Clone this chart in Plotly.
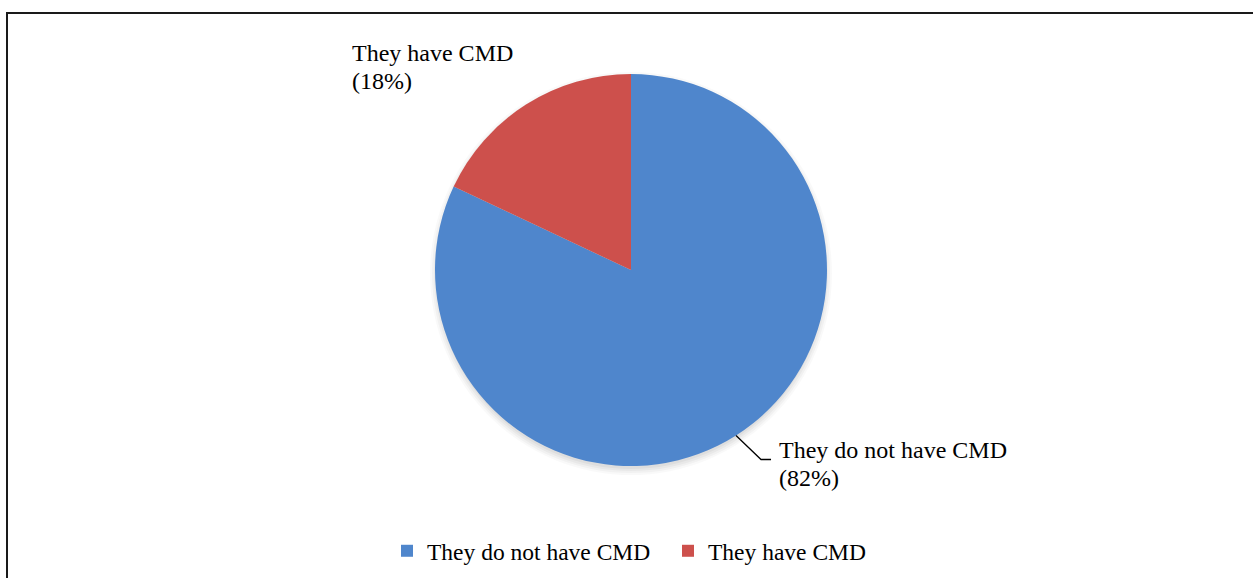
import math
import plotly.graph_objects as go

# ---- data ----
labels = ["They do not have CMD", "They have CMD"]
values = [82, 18]
colors = ["#4f86cc", "#cd504c"]

W, H = 1253, 578
CX, CY, R = 631, 270, 196
FONT = "Liberation Serif, Times New Roman, serif"


def px(x):
    return x / W


def py(y):
    return 1 - y / H


fig = go.Figure()
fig.add_trace(go.Pie(
    labels=labels, values=values, sort=False, direction="clockwise", rotation=0,
    marker=dict(colors=colors, line=dict(width=0)),
    textinfo="none", hoverinfo="label+percent",
    domain=dict(x=[px(CX - R), px(CX + R)], y=[py(CY + R), py(CY - R)]),
))

# soft shadow beneath the pie (mostly towards the bottom)
shapes = []
for i, a in enumerate([0.025, 0.03, 0.035, 0.04]):
    g = 7 - 2 * i
    shapes.append(dict(type="circle", xref="paper", yref="paper", layer="below",
                       x0=px(CX - R - g + 2), x1=px(CX + R + g - 2),
                       y0=py(CY + R + g + 2), y1=py(CY - R - g + 5),
                       fillcolor=f"rgba(0,0,0,{a})", line=dict(width=0)))
# outer frame
shapes.append(dict(type="rect", xref="paper", yref="paper",
                   x0=px(7), x1=px(W + 10), y0=py(H + 10), y1=py(13),
                   line=dict(color="#1a1a1a", width=2), fillcolor="rgba(0,0,0,0)"))

# leader line for the big slice, computed from the slice's mid angle
total = sum(values)
mid = (values[0] / 2) / total * 2 * math.pi
sx = CX + R * math.sin(mid)
sy = CY - R * math.cos(mid)
ex, ey = sx + 25, sy + 24
shapes.append(dict(type="path", xref="paper", yref="paper",
                   path=f"M {px(sx)},{py(sy)} L {px(ex)},{py(ey)} L {px(ex + 10)},{py(ey)}",
                   line=dict(color="black", width=1.3)))

pct = [round(v / total * 100) for v in values]
annotations = []
label_pos = [(777, 450), (350, 53)]
for i in range(len(labels)):
    x0, y0 = label_pos[i]
    for j, t in enumerate([labels[i], f"({pct[i]}%)"]):
        annotations.append(dict(x=px(x0), y=py(y0 + 28 * j), xref="paper", yref="paper",
                                text=t, showarrow=False, xanchor="left", yanchor="middle",
                                font=dict(family=FONT, size=24, color="black")))

fig.update_layout(
    width=W, height=H, margin=dict(l=0, r=0, t=0, b=0),
    paper_bgcolor="white", plot_bgcolor="white",
    shapes=shapes, annotations=annotations,
    showlegend=True,
    legend=dict(orientation="h", x=px(387), xanchor="left", y=py(551), yanchor="middle",
                font=dict(family=FONT, size=23.5, color="black"), itemwidth=30,
                entrywidth=236, traceorder="normal"),
)

fig.write_html("out.html")
